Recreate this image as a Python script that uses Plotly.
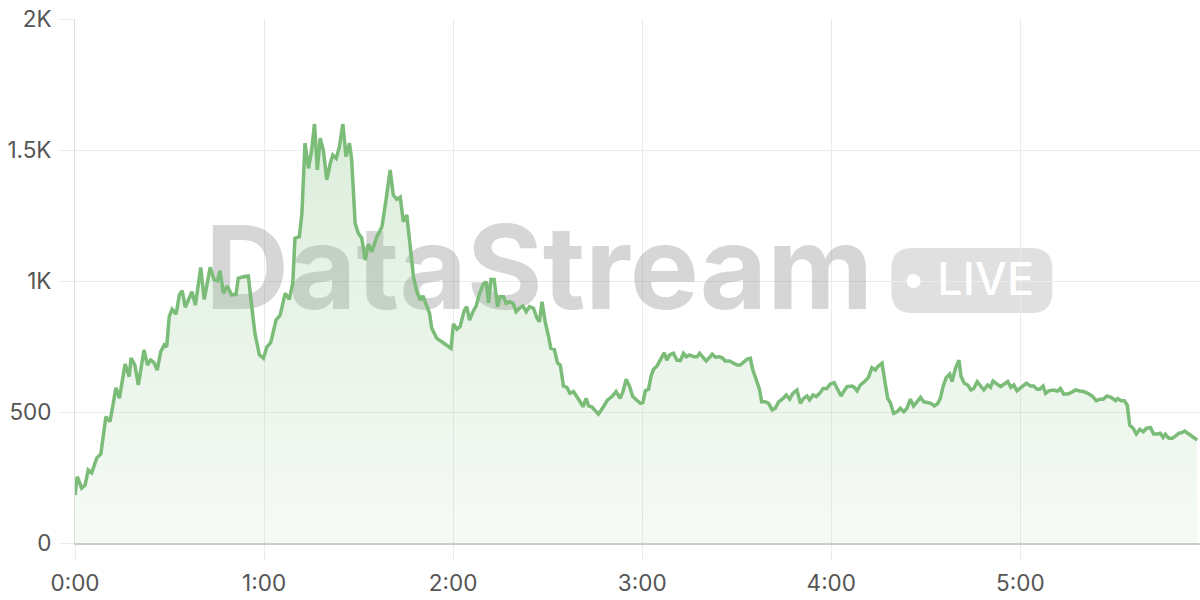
import plotly.graph_objects as go

# ---- data (seconds since start, viewer count) ----
times = [0.0, 0.7, 2.1, 3.2, 4.2, 5.3, 6.9, 8.2, 9.8, 11.1, 13.0, 14.1, 15.9, 17.2, 17.8, 19.0, 20.1, 21.9,
         23.0, 24.0, 25.1, 26.1, 27.2, 28.3, 29.1, 29.9, 30.8, 32.1, 33.1, 34.0, 35.0, 36.5, 37.1, 38.2, 39.9,
         41.0, 42.9, 44.1, 45.2, 46.0, 47.1, 48.3, 49.7, 51.1, 51.8, 53.4, 55.0, 56.1, 57.1, 58.5, 59.8, 60.9,
         62.1, 63.8, 65.1, 66.7, 68.0, 69.1, 69.8, 71.2, 72.0, 73.0, 74.1, 75.1, 76.0, 76.9, 77.8, 78.8, 79.9,
         81.0, 81.8, 82.9, 83.9, 85.0, 86.0, 87.1, 87.8, 88.9, 89.9, 91.0, 92.1, 93.1, 94.2, 95.8, 97.4, 98.7,
         100.0, 101.0, 102.1, 103.2, 104.2, 105.3, 106.6, 107.4, 108.5, 109.5, 110.4, 111.7, 112.5, 113.2,
         114.8, 116.4, 119.3, 120.1, 121.2, 122.2, 123.5, 124.3, 125.2, 126.3, 127.3, 128.4, 129.6, 130.5,
         131.2, 132.0, 133.0, 134.1, 134.9, 136.0, 136.8, 137.9, 139.0, 140.0, 141.0, 142.1, 143.2, 144.2,
         145.5, 146.6, 147.4, 148.2, 149.2, 150.3, 151.0, 152.1, 153.1, 154.0, 155.0, 156.1, 157.1, 158.2,
         159.3, 160.3, 161.2, 162.2, 163.0, 164.0, 165.1, 166.1, 167.7, 169.0, 170.4, 171.7, 173.0, 173.9,
         174.9, 176.0, 177.0, 178.1, 179.4, 180.2, 181.0, 182.0, 182.8, 183.6, 184.7, 185.7, 187.0, 187.8,
         188.7, 189.9, 191.0, 192.1, 193.1, 194.0, 195.0, 196.3, 197.4, 198.2, 199.3, 200.3, 201.6, 202.2,
         203.2, 204.5, 205.6, 206.3, 207.7, 208.8, 210.1, 211.1, 212.2, 213.2, 214.3, 215.1, 216.2, 217.2,
         217.9, 219.0, 220.1, 221.2, 222.2, 223.3, 224.7, 225.7, 226.8, 227.8, 229.1, 230.2, 231.2, 232.3,
         233.1, 234.2, 235.2, 236.3, 237.4, 238.6, 239.7, 240.9, 242.0, 243.1, 243.9, 245.0, 246.6, 247.3,
         248.2, 249.2, 250.5, 251.8, 252.9, 254.0, 254.7, 256.1, 257.1, 257.9, 258.7, 259.8, 260.9, 261.9,
         263.0, 264.0, 265.1, 266.1, 267.2, 268.3, 269.3, 270.6, 271.6, 272.7, 273.7, 274.6, 275.5, 276.5,
         277.6, 278.3, 279.4, 280.5, 281.2, 282.2, 283.3, 284.3, 285.2, 286.3, 287.3, 288.4, 289.6, 290.5,
         291.3, 292.6, 293.7, 294.9, 296.0, 297.0, 297.9, 298.9, 300.2, 301.9, 303.2, 304.2, 305.3, 306.1,
         307.2, 308.0, 309.0, 310.4, 311.8, 312.7, 313.7, 315.0, 316.1, 317.5, 318.8, 320.1, 321.4, 322.8,
         324.1, 325.2, 326.3, 327.5, 328.8, 330.2, 330.9, 332.0, 333.0, 333.9, 334.7, 335.8, 336.8, 337.9,
         339.0, 340.0, 341.3, 342.3, 343.4, 344.4, 345.3, 346.0, 347.1, 348.2, 349.2, 350.3, 351.3, 352.1,
         353.1, 354.5, 356.1]
viewers = [183, 253, 210, 221, 279, 268, 324, 340, 482, 463, 592, 553, 683, 635, 706, 679, 603, 737,
           679, 698, 688, 660, 730, 756, 749, 864, 892, 874, 947, 963, 900, 940, 959, 908, 1052,
           930, 1052, 1006, 1001, 1039, 953, 981, 947, 949, 1010, 1016, 1019, 902, 800, 718, 705, 749,
           765, 851, 870, 953, 930, 991, 1163, 1169, 1258, 1526, 1430, 1500, 1599, 1424, 1545, 1500, 1386,
           1449, 1481, 1468, 1513, 1599, 1475, 1526, 1462, 1220, 1182, 1163, 1080, 1141, 1112, 1169, 1207, 1309,
           1424, 1328, 1312, 1320, 1226, 1252, 1093, 1016, 959, 928, 943, 896, 877, 820,
           781, 768, 743, 836, 816, 826, 887, 902, 851, 883, 905, 953, 989, 997,
           917, 1006, 1006, 902, 940, 940, 915, 921, 915, 883, 896, 905, 883, 902,
           896, 858, 845, 921, 845, 787, 743, 739, 688, 679, 599, 594, 571, 578,
           559, 539, 520, 552, 523, 520, 505, 492, 520, 546, 559, 578, 552, 578,
           625, 597, 559, 549, 533, 536, 581, 587, 637, 663, 676, 698, 726, 698,
           718, 724, 698, 696, 724, 711, 718, 711, 711, 724, 711, 695, 711, 721,
           709, 711, 705, 695, 695, 686, 679, 679, 692, 701, 705, 660, 622, 587,
           539, 539, 533, 508, 514, 539, 552, 565, 549, 571, 584, 533, 552, 561,
           546, 565, 559, 571, 590, 590, 607, 612, 587, 561, 578, 597, 599, 594,
           581, 603, 616, 632, 669, 660, 673, 686, 610, 552, 536, 495, 501, 514,
           501, 514, 549, 523, 539, 556, 539, 536, 533, 523, 531, 552, 599, 632,
           645, 616, 667, 698, 635, 610, 603, 584, 590, 616, 603, 584, 603, 594,
           618, 607, 597, 607, 616, 594, 603, 581, 594, 610, 599, 599, 587, 587,
           599, 571, 581, 584, 580, 590, 569, 569, 574, 584, 580, 578, 571, 561,
           543, 549, 549, 561, 556, 543, 551, 543, 543, 527, 450, 438, 416, 434,
           425, 438, 440, 416, 416, 419, 403, 415, 400, 400, 408, 419, 421, 427,
           419, 408, 393]

x_tick_vals = [0, 60, 120, 180, 240, 300]
x_tick_text = ["0:00", "1:00", "2:00", "3:00", "4:00", "5:00"]
y_tick_vals = [0, 500, 1000, 1500, 2000]
y_tick_text = ["0", "500", "1K", "1.5K", "2K"]

watermark_text = "DataStream"
badge_text = "LIVE"

GREEN = "rgb(122,188,120)"
GRID = "#ebebeb"
FONT = "Inter, Noto Sans, sans-serif"

fig = go.Figure()

# watermark (below the data)
fig.add_trace(go.Scatter(
    x=[147.3], y=[1002], mode="text", text=[watermark_text],
    textposition="middle center",
    textfont=dict(family=FONT, size=116, color="rgba(120,120,120,0.30)", weight=700),
    hoverinfo="skip", showlegend=False))
# badge dot + text
fig.add_trace(go.Scatter(
    x=[266.1], y=[1000], mode="markers",
    marker=dict(size=14, color="white", line=dict(width=0)),
    hoverinfo="skip", showlegend=False))
fig.add_trace(go.Scatter(
    x=[289.0], y=[990], mode="text", text=[badge_text],
    textposition="middle center",
    textfont=dict(family=FONT, size=45, color="white", weight=500),
    hoverinfo="skip", showlegend=False))

# main area line
fig.add_trace(go.Scatter(
    x=times, y=viewers, mode="lines",
    line=dict(color=GREEN, width=3.5),
    fill="tozeroy",
    fillgradient=dict(type="vertical", start=0, stop=1600,
                      colorscale=[[0, "rgba(122,188,120,0.07)"], [1, "rgba(122,188,120,0.26)"]]),
    hoverinfo="skip", showlegend=False))

# rounded badge background, sized in pixels around an anchor
hw, hh, r = 80.5, 32.5, 21
path = (f"M {-hw + r},{-hh} L {hw - r},{-hh} Q {hw},{-hh} {hw},{-hh + r} "
        f"L {hw},{hh - r} Q {hw},{hh} {hw - r},{hh} L {-hw + r},{hh} "
        f"Q {-hw},{hh} {-hw},{hh - r} L {-hw},{-hh + r} Q {-hw},{-hh} {-hw + r},{-hh} Z")
fig.add_shape(type="path", path=path, xref="x", yref="y",
              xsizemode="pixel", ysizemode="pixel", xanchor=284.6, yanchor=1002,
              fillcolor="rgba(120,120,120,0.23)", line=dict(width=0), layer="below")

fig.update_layout(
    width=1200, height=600,
    margin=dict(l=75, r=0, t=19, b=57),
    paper_bgcolor="white", plot_bgcolor="white",
    hovermode=False, showlegend=False,
    font=dict(family=FONT, size=22, color="#555555"),
)
fig.update_xaxes(
    range=[0, 357], tickvals=x_tick_vals, ticktext=x_tick_text,
    showgrid=True, gridcolor=GRID, gridwidth=1,
    ticks="outside", ticklen=15, tickcolor=GRID, tickwidth=1,
    showline=True, linecolor="#cccccc", linewidth=2,
    zeroline=False, ticklabelstandoff=4,
    tickfont=dict(family=FONT, size=22.5, color="#555555"),
)
fig.update_yaxes(
    range=[0, 2000], tickvals=y_tick_vals, ticktext=y_tick_text,
    showgrid=True, gridcolor=GRID, gridwidth=1,
    ticks="outside", ticklen=15, tickcolor=GRID, tickwidth=1,
    showline=True, linecolor="#dddddd", linewidth=1,
    zeroline=False, ticklabelstandoff=3,
    tickfont=dict(family=FONT, size=22.5, color="#555555"),
)

fig.write_html("out.html", config={"displayModeBar": False},
               post_script="document.body.style.margin='0';document.body.style.overflow='hidden';")
